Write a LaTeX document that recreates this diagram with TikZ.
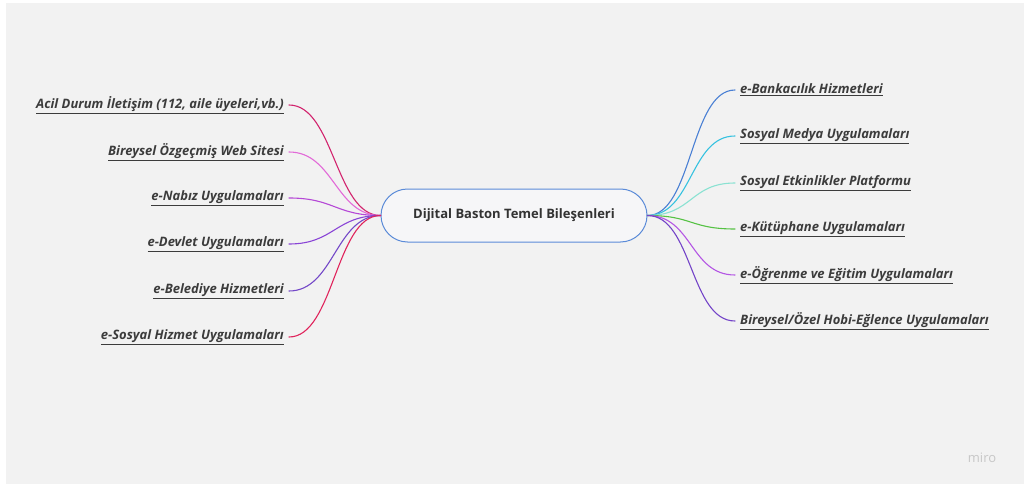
\documentclass[tikz,border=0pt]{standalone}
\usepackage{fontspec}
\setmainfont{Open Sans}
\begin{document}
\begin{tikzpicture}[x=1pt,y=-1pt,
  lab/.style={inner xsep=5pt,inner ysep=1pt,text=txt,font=\fontsize{13}{15}\selectfont\bfseries\itshape},
  llab/.style={lab,anchor=east},
  rlab/.style={lab,anchor=west},
  conn/.style={line width=1.1pt,line cap=round},
  hub/.style={draw=hubblue,line width=1pt,fill=hubfill,rounded corners=26.5pt,minimum width=266pt,minimum height=53pt,text=hubtxt,font=\fontsize{13}{15}\selectfont\bfseries}
]
\definecolor{bg}{HTML}{F2F2F2}
\definecolor{txt}{HTML}{3C3C3C}
\definecolor{hubtxt}{HTML}{333333}
\definecolor{hubblue}{HTML}{5B8BD8}
\definecolor{hubfill}{HTML}{F6F6F8}
\definecolor{cA}{HTML}{D2246E}
\definecolor{cB}{HTML}{E26AD8}
\definecolor{cC}{HTML}{B548D6}
\definecolor{cD}{HTML}{8A45D6}
\definecolor{cE}{HTML}{7448C8}
\definecolor{cF}{HTML}{E0245C}
\definecolor{dA}{HTML}{4A80D4}
\definecolor{dB}{HTML}{36C2E0}
\definecolor{dC}{HTML}{8AE2D2}
\definecolor{dD}{HTML}{56C244}
\definecolor{dE}{HTML}{B456E4}
\definecolor{dF}{HTML}{7444C8}
\useasboundingbox (0,0) rectangle (1028,484);
\fill[white] (0,0) rectangle (1028,484);
\fill[bg] (6,3) rectangle (1024,484);

\node[hub] (hub) at (514,215.5) {Dijital Baston Temel Bileşenleri};

\node[llab] (l1) at (289,105) {\underline{Acil Durum İletişim (112, aile üyeleri,vb.)}};
\node[llab] (l2) at (289,152) {\underline{Bireysel Özgeçmiş Web Sitesi}};
\node[llab] (l3) at (289,198) {\underline{e-Nabız Uygulamaları}};
\node[llab] (l4) at (289,244) {\underline{e-Devlet Uygulamaları}};
\node[llab] (l5) at (289,291) {\underline{e-Belediye Hizmetleri}};
\node[llab] (l6) at (289,337) {\underline{e-Sosyal Hizmet Uygulamaları}};

\node[rlab] (r1) at (735,90) {\underline{e-Bankacılık Hizmetleri}};
\node[rlab] (r2) at (735,136) {\underline{Sosyal Medya Uygulamaları}};
\node[rlab] (r3) at (735,183) {\underline{Sosyal Etkinlikler Platformu}};
\node[rlab] (r4) at (735,229) {\underline{e-Kütüphane Uygulamaları}};
\node[rlab] (r5) at (735,275) {\underline{e-Öğrenme ve Eğitim Uygulamaları}};
\node[rlab] (r6) at (735,321) {\underline{Bireysel/Özel Hobi-Eğlence Uygulamaları}};

\foreach \n/\c in {l1/cA,l2/cB,l3/cC,l4/cD,l5/cE,l6/cF}
  \draw[conn,draw=\c] (hub.west) .. controls +(-45,0) and +(45,0) .. (\n.east);
\foreach \n/\c in {r1/dA,r2/dB,r3/dC,r4/dD,r5/dE,r6/dF}
  \draw[conn,draw=\c] (hub.east) .. controls +(45,0) and +(-45,0) .. (\n.west);

\node[text=black!22,font=\fontsize{13}{14}\selectfont] (miro) at (982,458) {miro};
\end{tikzpicture}
\end{document}
